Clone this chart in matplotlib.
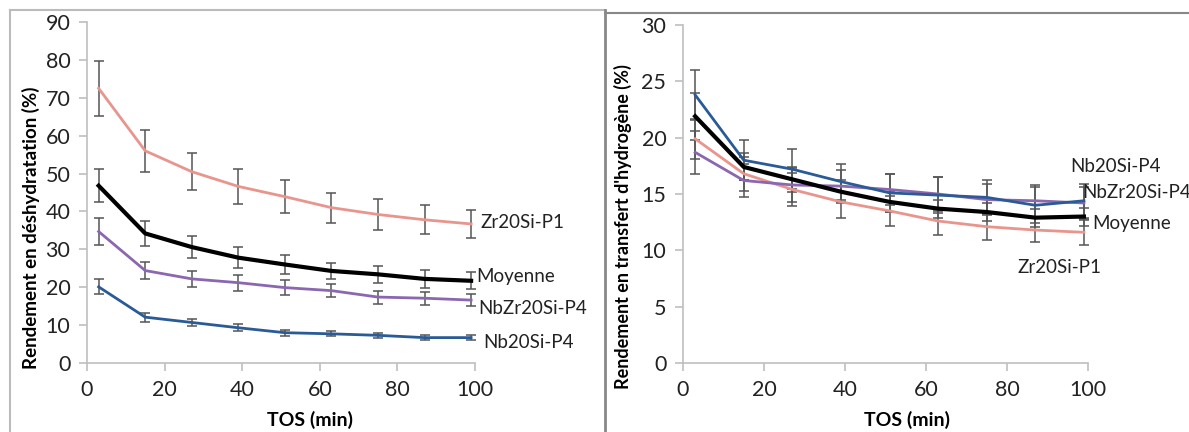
import matplotlib
matplotlib.use("Agg")
import matplotlib.pyplot as plt
from matplotlib.lines import Line2D

plt.rcParams['font.family'] = ['Lato', 'DejaVu Sans']

# temps sous flux (min)
tos = [3, 15, 27, 39, 51, 63, 75, 87, 99]

# rendement en deshydratation (%)
deh_zr = [72.5, 56.0, 50.5, 46.6, 43.9, 41.0, 39.2, 37.8, 36.7]
deh_zr_err = [7.3, 5.6, 4.9, 4.6, 4.4, 4.0, 4.0, 3.8, 3.7]
deh_moy = [46.8, 34.2, 30.6, 27.8, 26.0, 24.3, 23.4, 22.2, 21.7]
deh_moy_err = [4.3, 3.4, 3.0, 2.7, 2.4, 2.2, 2.2, 2.3, 2.2]
deh_nbzr = [34.7, 24.4, 22.2, 21.2, 19.9, 19.1, 17.4, 17.1, 16.6]
deh_nbzr_err = [3.5, 2.3, 2.2, 2.1, 2.0, 1.8, 1.7, 1.7, 1.6]
deh_nb = [20.1, 12.1, 10.7, 9.3, 8.0, 7.7, 7.3, 6.7, 6.7]
deh_nb_err = [2.0, 1.2, 1.0, 0.9, 0.8, 0.7, 0.7, 0.6, 0.6]

# rendement en transfert d'hydrogene (%)
th_nb = [23.8, 18.0, 17.2, 16.1, 15.1, 14.9, 14.7, 14.0, 14.4]
th_nb_err = [2.2, 1.8, 1.8, 1.6, 1.7, 1.6, 1.5, 1.6, 1.5]
th_nbzr = [18.7, 16.2, 15.8, 15.7, 15.4, 15.0, 14.5, 14.4, 14.2]
th_nbzr_err = [1.9, 1.5, 1.5, 1.4, 1.4, 1.5, 1.4, 1.4, 1.4]
th_moy = [21.9, 17.4, 16.3, 15.2, 14.3, 13.7, 13.4, 12.9, 13.0]
th_moy_err = [2.1, 1.2, 1.1, 1.0, 0.9, 0.8, 0.8, 0.8, 0.8]
th_zr = [19.9, 16.8, 15.4, 14.3, 13.5, 12.6, 12.1, 11.8, 11.6]
th_zr_err = [1.8, 1.5, 1.5, 1.4, 1.3, 1.2, 1.2, 1.1, 1.1]

c_zr = '#E8958E'
c_moy = '#000000'
c_nbzr = '#8A67B0'
c_nb = '#2A5B96'
c_err = '#555555'
c_axis = '#BFBFBF'

fig = plt.figure(figsize=(11.89, 4.32), dpi=100)

# cadres des deux graphiques
fig.add_artist(Line2D([10/1189, 605/1189], [1 - 10/432, 1 - 10/432], color='#BBBBBB', lw=1.5))
fig.add_artist(Line2D([10/1189, 10/1189], [0, 1 - 10/432], color='#BBBBBB', lw=1.5))
fig.add_artist(Line2D([605/1189, 605/1189], [0, 1 - 10/432], color='#888888', lw=2))
fig.add_artist(Line2D([605/1189, 1], [1 - 12.5/432, 1 - 12.5/432], color='#888888', lw=1.5))


def style_axes(ax, ymax, ystep):
    ax.set_xlim(0, 100)
    ax.set_ylim(0, ymax)
    ax.set_xticks(range(0, 101, 20))
    ax.set_yticks(range(0, ymax + 1, ystep))
    for s in ['top', 'right']:
        ax.spines[s].set_visible(False)
    for s in ['left', 'bottom']:
        ax.spines[s].set_color(c_axis)
        ax.spines[s].set_linewidth(1.2)
    ax.tick_params(direction='out', length=6, width=1.2, color=c_axis,
                   labelsize=15.5, pad=6, labelcolor='#222222')
    ax.patch.set_alpha(0)


def series(ax, y, err, color, lw):
    ax.errorbar(tos, y, yerr=err, color=color, lw=lw, ecolor=c_err,
                elinewidth=1.1, capsize=3.5, capthick=1.1, zorder=3)


# graphique de gauche
ax1 = fig.add_axes([87/1189, 1 - 363/432, 388/1189, 341/432])
style_axes(ax1, 90, 10)
series(ax1, deh_zr, deh_zr_err, c_zr, 2)
series(ax1, deh_moy, deh_moy_err, c_moy, 3)
series(ax1, deh_nbzr, deh_nbzr_err, c_nbzr, 2)
series(ax1, deh_nb, deh_nb_err, c_nb, 2)
lab = dict(fontsize=13.5, color='#222222', va='center', ha='left', clip_on=False)
ax1.text(101.3, 37.2, 'Zr20Si-P1', **lab)
ax1.text(100.3, 22.7, 'Moyenne', **lab)
ax1.text(100.8, 14.5, 'NbZr20Si-P4', **lab)
ax1.text(102.0, 5.5, 'Nb20Si-P4', **lab)
fig.text(31/1189, 1 - 228/432, 'Rendement en déshydratation (%)', rotation=90,
         fontsize=13.5, fontweight='bold', ha='center', va='center')
fig.text(310/1189, 1 - 420/432, 'TOS (min)', fontsize=14, fontweight='bold',
         ha='center', va='center')

# graphique de droite
ax2 = fig.add_axes([683/1189, 1 - 363/432, 405/1189, 338/432])
style_axes(ax2, 30, 5)
series(ax2, th_zr, th_zr_err, c_zr, 2)
series(ax2, th_nbzr, th_nbzr_err, c_nbzr, 2)
series(ax2, th_nb, th_nb_err, c_nb, 2)
series(ax2, th_moy, th_moy_err, c_moy, 3)
ax2.text(95.6, 17.4, 'Nb20Si-P4', **lab)
ax2.text(98.6, 15.1, 'NbZr20Si-P4', **lab)
ax2.text(101.0, 12.4, 'Moyenne', **lab)
ax2.text(82.5, 8.5, 'Zr20Si-P1', **lab)
fig.text(623/1189, 1 - 227/432, "Rendement en transfert d'hydrogène (%)", rotation=90,
         fontsize=13, fontweight='bold', ha='center', va='center')
fig.text(907/1189, 1 - 420/432, 'TOS (min)', fontsize=14, fontweight='bold',
         ha='center', va='center')

fig.savefig('out.png', dpi=100)
